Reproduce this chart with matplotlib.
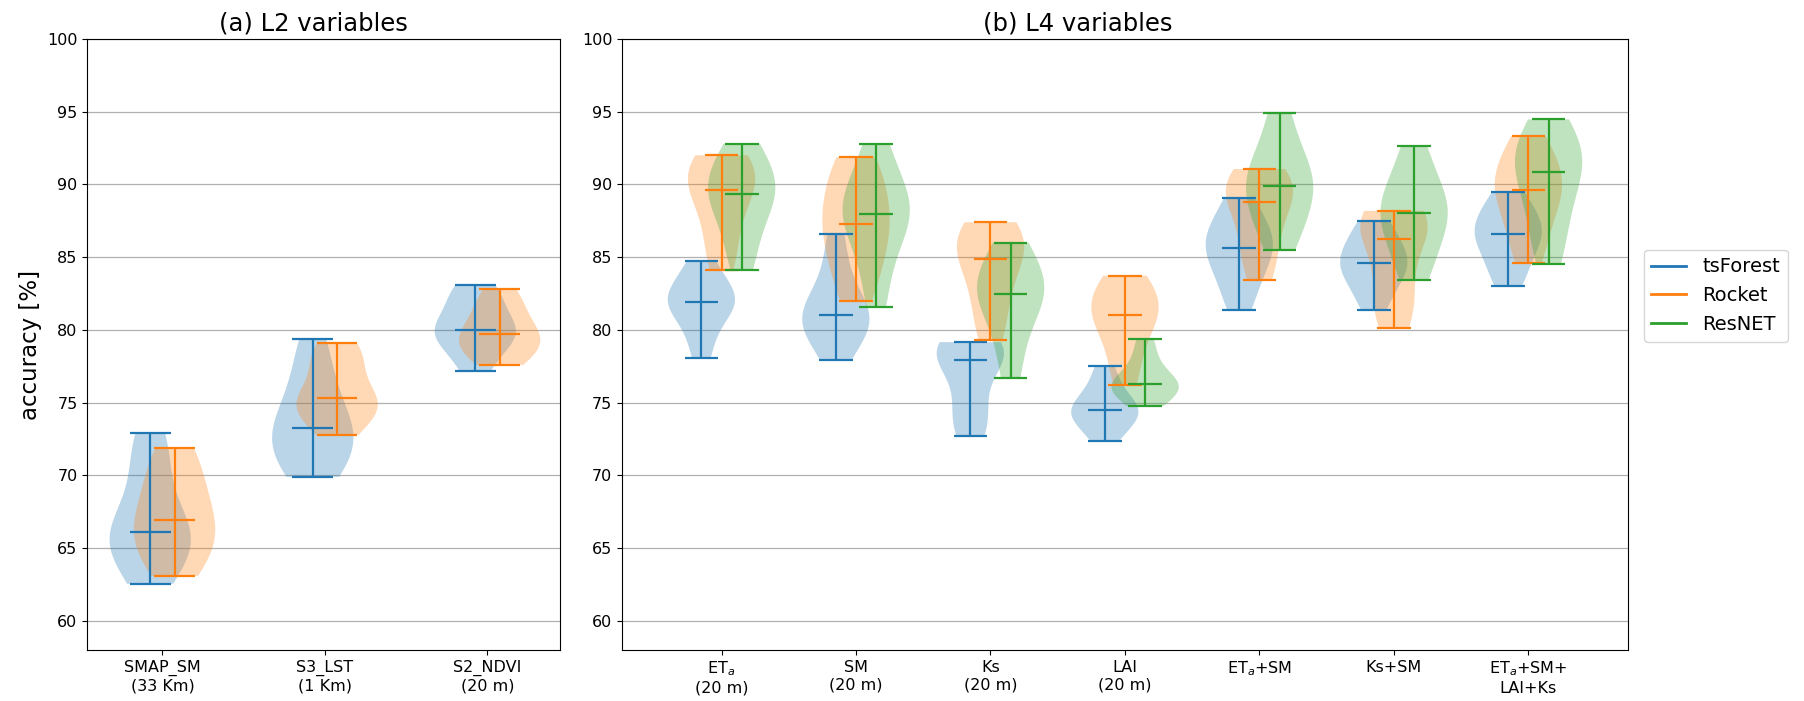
import matplotlib
matplotlib.use("Agg")
import matplotlib.pyplot as plt
from matplotlib.lines import Line2D

# ---------------- data ----------------
series = ["tsForest", "Rocket", "ResNET"]
colors = ["#1f77b4", "#ff7f0e", "#2ca02c"]

l2_labels = ["SMAP_SM\n(33 Km)", "S3_LST\n(1 Km)", "S2_NDVI\n(20 m)"]
l4_labels = ["ET$_a$\n(20 m)", "SM\n(20 m)", "Ks\n(20 m)", "LAI\n(20 m)",
             "ET$_a$+SM", "Ks+SM", "ET$_a$+SM+\nLAI+Ks"]

# accuracy samples per category (estimated from the violins)
l2_tsforest = [
    [62.55, 63.8, 64.9, 65.5, 66.0, 66.2, 67.5, 69.5, 71.5, 72.9],
    [69.9, 70.6, 71.5, 72.3, 73.0, 73.5, 74.5, 75.8, 77.5, 79.4],
    [77.2, 78.3, 79.2, 79.7, 79.9, 80.1, 80.8, 81.8, 82.5, 83.1],
]
l2_rocket = [
    [63.1, 64.2, 65.0, 65.8, 66.7, 67.2, 68.3, 69.5, 70.7, 71.9],
    [72.8, 73.8, 74.4, 74.8, 75.1, 75.5, 76.5, 77.8, 78.4, 79.1],
    [77.6, 78.2, 78.7, 79.1, 79.5, 79.9, 80.4, 81.2, 82.0, 82.8],
]

l4_tsforest = [
    [78.1, 79.6, 80.8, 81.5, 81.8, 82.0, 82.5, 83.0, 83.8, 84.77],
    [77.96, 79.2, 80.0, 80.5, 80.8, 81.2, 81.9, 82.8, 84.5, 86.6],
    [72.68, 73.5, 74.5, 76.0, 77.6, 78.26, 78.5, 78.8, 79.0, 79.16],
    [72.37, 73.2, 73.7, 74.1, 74.4, 74.6, 75.0, 75.5, 76.4, 77.5],
    [81.4, 82.8, 83.9, 84.8, 85.4, 85.9, 86.4, 87.0, 87.9, 89.1],
    [81.4, 82.5, 83.4, 84.0, 84.4, 84.8, 85.3, 85.9, 86.7, 87.5],
    [83.0, 84.0, 85.0, 85.8, 86.4, 86.8, 87.2, 87.8, 88.6, 89.5],
]
l4_rocket = [
    [84.1, 85.5, 87.0, 88.5, 89.3, 89.9, 90.6, 91.2, 91.7, 92.0],
    [82.0, 83.5, 84.8, 86.0, 87.0, 87.6, 88.6, 89.8, 90.9, 91.87],
    [79.3, 80.8, 82.2, 83.6, 84.6, 85.2, 85.9, 86.5, 87.0, 87.4],
    [76.2, 77.6, 79.0, 80.3, 80.9, 81.1, 81.8, 82.5, 83.2, 83.73],
    [83.4, 84.8, 86.0, 87.2, 88.5, 89.1, 89.6, 90.1, 90.6, 91.06],
    [80.15, 81.2, 82.4, 83.6, 85.6, 86.9, 87.2, 87.5, 87.9, 88.18],
    [84.6, 86.0, 87.4, 88.5, 89.3, 89.9, 90.5, 91.2, 92.2, 93.3],
]
l4_resnet = [
    [84.1, 85.8, 87.3, 88.4, 89.1, 89.6, 90.2, 90.9, 91.8, 92.8],
    [81.6, 84.0, 85.8, 87.2, 87.8, 88.2, 88.8, 89.6, 91.0, 92.8],
    [76.67, 78.8, 80.5, 81.6, 82.3, 82.7, 83.3, 84.0, 85.0, 86.0],
    [74.77, 75.3, 75.7, 76.0, 76.2, 76.34, 76.7, 77.3, 78.3, 79.4],
    [85.5, 86.8, 87.9, 88.8, 89.6, 90.2, 90.8, 91.6, 93.0, 94.93],
    [83.4, 84.8, 86.0, 87.0, 87.8, 88.28, 88.9, 89.7, 91.0, 92.65],
    [84.5, 86.3, 87.9, 89.2, 90.5, 91.2, 91.8, 92.5, 93.4, 94.47],
]

yticks = [60, 65, 70, 75, 80, 85, 90, 95, 100]

# ---------------- figure ----------------
plt.rcParams['font.family'] = ['DejaVu Sans']
fig = plt.figure(figsize=(18.04, 7.01), dpi=100)
ax1 = fig.add_axes([0.0484, 0.0728, 0.2620, 0.8716])
ax2 = fig.add_axes([0.3448, 0.0728, 0.5576, 0.8716])


def draw(ax, groups, offsets):
    for data, off, c in zip(groups, offsets, colors):
        pos = [i + 1 + off for i in range(len(data))]
        parts = ax.violinplot(data, positions=pos, widths=0.5,
                              showmedians=True, showextrema=True)
        for b in parts['bodies']:
            b.set_facecolor(c)
            b.set_edgecolor('none')
            b.set_alpha(0.3)
        for k in ('cmaxes', 'cmins', 'cbars', 'cmedians'):
            parts[k].set_color(c)
            parts[k].set_linewidth(1.6)


draw(ax1, [l2_tsforest, l2_rocket], [-0.075, 0.075])
draw(ax2, [l4_tsforest, l4_rocket, l4_resnet], [-0.15, 0.0, 0.15])

for ax, labels in ((ax1, l2_labels), (ax2, l4_labels)):
    ax.set_ylim(58, 100)
    ax.set_yticks(yticks)
    ax.set_xticks(range(1, len(labels) + 1))
    ax.set_xticklabels(labels, fontsize=11.5)
    ax.tick_params(axis='y', labelsize=11.5)
    ax.yaxis.grid(True, color='#b0b0b0', linewidth=0.9)
    ax.set_axisbelow(True)

ax1.set_xlim(0.538, 3.446)
ax2.set_xlim(0.26, 7.74)

ax1.set_title("(a) L2 variables", fontsize=17.5, x=0.479)
ax2.set_title("(b) L4 variables", fontsize=17.5, x=0.453)
ax1.set_ylabel("accuracy [%]", fontsize=16.5)

handles = [Line2D([], [], color=c, linewidth=2) for c in colors]
ax2.legend(handles, series, loc='center left', bbox_to_anchor=(1.006, 0.58),
           fontsize=14, handlelength=1.8)

fig.savefig("out.png", dpi=100)
